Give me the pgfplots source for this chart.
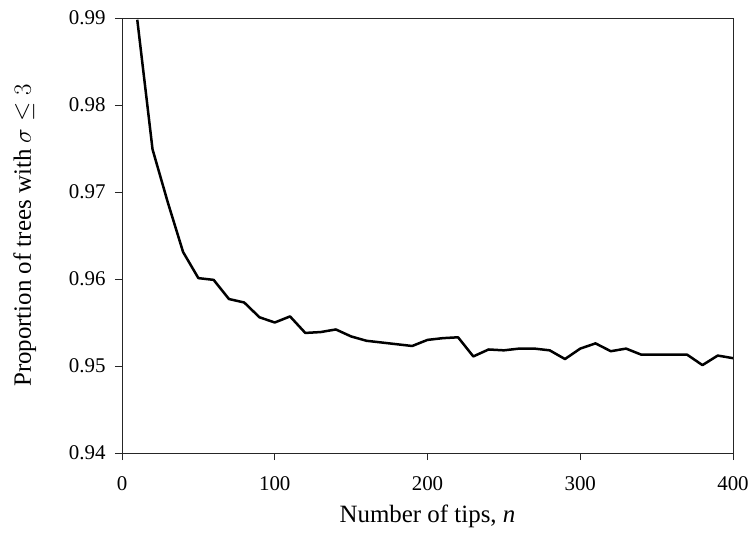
\documentclass[border=0pt]{standalone}
\usepackage{fontspec}
\setmainfont{Liberation Serif}
\usepackage{pgfplots}
\pgfplotsset{compat=1.18}
\begin{document}
\begin{tikzpicture}
\path[use as bounding box] (-122bp,-85bp) rectangle (632bp,453bp);
\begin{axis}[
  at={(0,0)}, anchor=south west,
  scale only axis, width=611bp, height=435bp,
  xmin=0, xmax=400, ymin=0.94, ymax=0.99,
  xtick={0,100,200,300,400},
  ytick={0.94,0.95,0.96,0.97,0.98,0.99},
  tick align=outside, major tick length=7bp,
  xtick pos=bottom, ytick pos=left,
  axis line style={line width=0.8bp, black!85},
  every tick/.style={line width=0.8bp, black!85},
  /pgf/number format/assume math mode=true,
  yticklabel style={/pgf/number format/.cd, fixed, precision=2, fixed zerofill, /tikz/.cd, xshift=-6bp},
  xticklabel style={yshift=-13bp},
  tick label style={font=\fontsize{21}{21}\selectfont},
  label style={font=\fontsize{25}{25}\selectfont},
  xlabel={Number of tips, \textit{n}},
  ylabel={Proportion of trees with $\sigma \leq 3$},
  xlabel style={at={(axis description cs:0.5,-0.145)}, anchor=center},
  ylabel style={at={(axis description cs:-0.159,0.5)}, anchor=center},
  clip=true,
]
\addplot[black, line width=2.5bp, line join=round] coordinates {
(10,0.9898) (20,0.9749) (30,0.9688) (40,0.9631) (50,0.9601) (60,0.9599)
(70,0.9577) (80,0.9573) (90,0.9556) (100,0.9550) (110,0.9557) (120,0.9538)
(130,0.9539) (140,0.9542) (150,0.9534) (160,0.9529) (170,0.9527) (180,0.9525)
(190,0.9523) (200,0.9530) (210,0.9532) (220,0.9533) (230,0.9511) (240,0.9519)
(250,0.9518) (260,0.9520) (270,0.9520) (280,0.9518) (290,0.9508) (300,0.9520)
(310,0.9526) (320,0.9517) (330,0.9520) (340,0.9513) (350,0.9513) (360,0.9513)
(370,0.9513) (380,0.9501) (390,0.9512) (400,0.9509)
};
\end{axis}
\end{tikzpicture}
\end{document}
